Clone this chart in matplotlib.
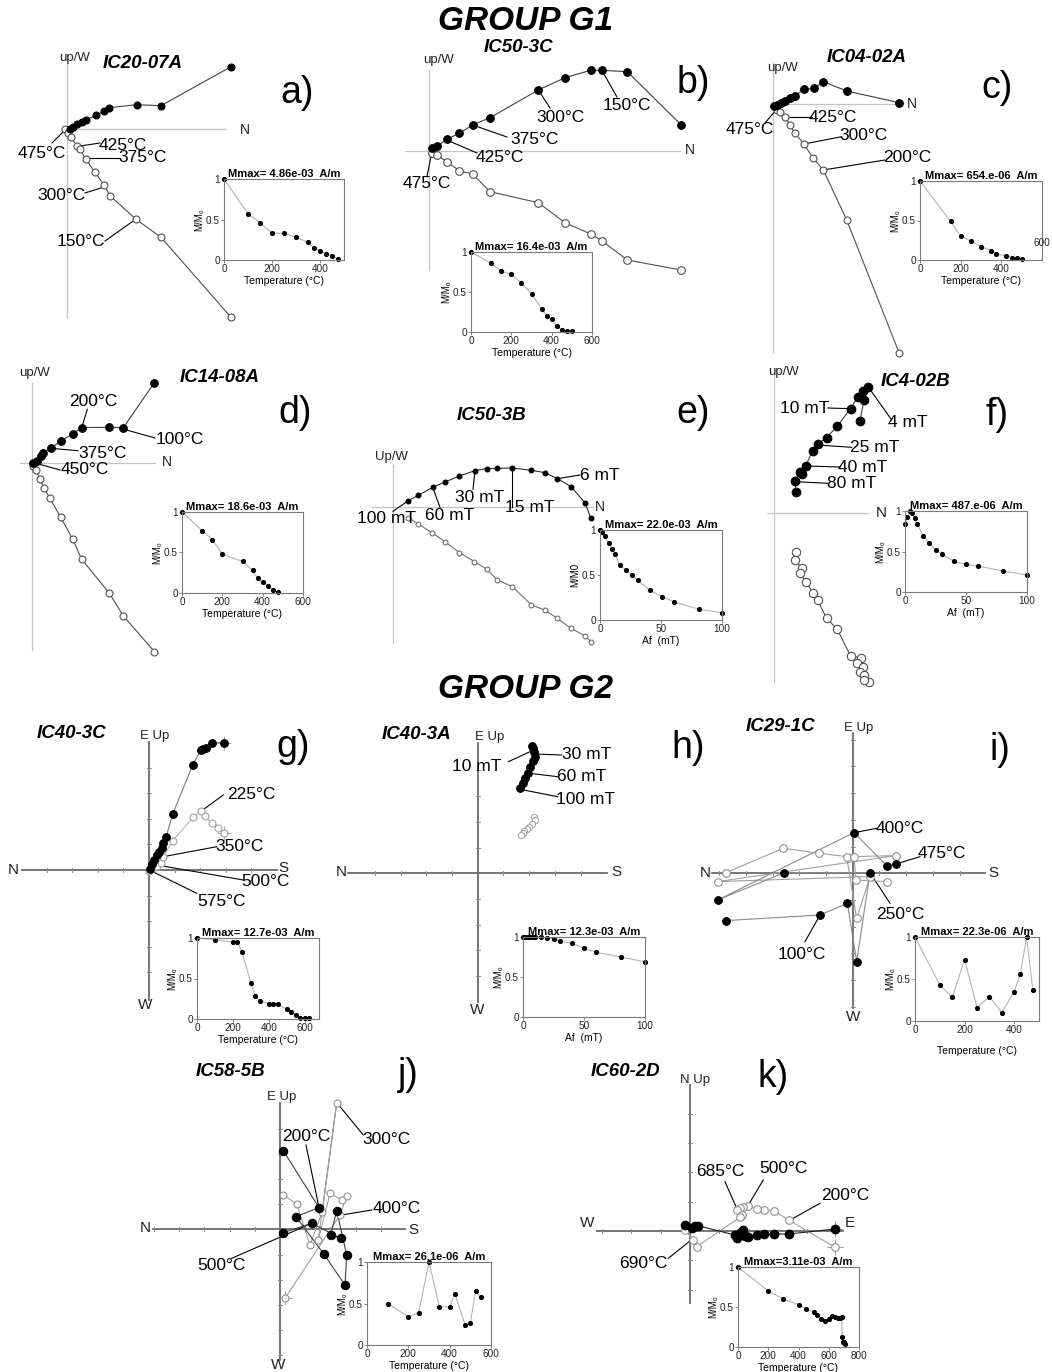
import matplotlib
matplotlib.use('Agg')
import matplotlib.pyplot as plt

plt.rcParams['font.family'] = ['Liberation Sans', 'DejaVu Sans']

W, H = 1052, 1372
fig = plt.figure(figsize=(W / 100, H / 100), dpi=100)
fig.patch.set_facecolor('white')

# ---------------- Zijderveld data (horizontal = filled, vertical = open) ----------------
A_H = [(3, 0), (6.3, 2.3), (10.3, 4.7), (14.7, 7), (19, 9), (28.7, 13.7), (37.3, 17.7), (42.3, 21.3),
       (69.7, 24.3), (94, 23.3), (164, 62.3)]
A_V = [(-2, 0), (1.3, -4.3), (3.7, -8.3), (10.3, -17), (13, -20.3), (19, -30.3), (28, -43.3), (37, -56),
       (43, -66.7), (69, -90.3), (94, -108.3), (164, -188.3)]
B_H = [(2.7, 2.7), (8.3, 5), (17.7, 11.7), (30.3, 17.7), (43.7, 26), (61, 33.3), (109.3, 61), (136, 73.3),
       (161.7, 80.7), (172.7, 80.7), (198.3, 79.3), (252, 26.3)]
B_V = [(2.7, -1.7), (8.3, -4), (17.7, -10.7), (30.3, -19.7), (43.7, -23), (61, -40.7), (109.3, -51.7),
       (136, -71.7), (161.7, -83), (172.7, -89.7), (198.3, -109), (252, -119)]
C_H = [(0.5, -1.5), (3.7, -1), (8, 1.3), (12, 3), (17, 5.7), (22, 8.3), (31, 14.7), (41, 15.7), (50.3, 22.3),
       (73.7, 13), (126.3, 1.3)]
C_V = [(3.7, -6), (7, -7.7), (12, -12.7), (17, -21), (22, -29.3), (31, -40), (39.7, -53.7), (50.3, -66),
       (73.7, -116), (126.3, -249.3)]
D_H = [(1.7, 0.7), (5, 2.7), (9, 7.3), (11.7, 10.7), (19, 15), (29, 22.3), (41, 29.3), (50, 35.7), (77.7, 36),
       (91.7, 35.7), (122.7, 80.7)]
D_V = [(1, -2.7), (4.3, -6.7), (8.3, -16), (12.3, -25), (18.3, -35), (29, -54), (41, -76), (50, -96),
       (77.7, -130), (91.7, -152.7), (122.7, -188.3)]
E_H = [(15.7, 6.7), (25.7, 12), (40, 20), (52.3, 25.3), (66.7, 31.3), (82.3, 36.7), (94, 38.7), (104.7, 39),
       (119.7, 39.3), (138.7, 37), (152, 34.7), (164.7, 28.7), (178.3, 20.7), (192.7, 4), (198, -11)]
E_V = [(15.7, -10.3), (25.7, -16.7), (39, -25.3), (52.3, -34.3), (66.7, -45.3), (81.7, -54.3), (94, -62),
       (104.7, -72.7), (119.7, -79.3), (138.7, -97.7), (152, -102.7), (164.7, -111), (178, -121),
       (192.7, -128.7), (198, -134.3)]
F_H = [(85.7, 92.7), (89.7, 113.3), (94, 126.7), (89, 122.7), (83.3, 116), (76.3, 104.7), (63, 87.3),
       (52.3, 75.7), (43.3, 69.3), (38.3, 62.7), (31.3, 47.3), (27.3, 39), (25.7, 41.7), (20.7, 32.7),
       (21.7, 21)]
F_V = [(21.7, -38.3), (20.7, -46.7), (27.3, -55), (25.7, -60), (31.3, -68.3), (39, -80), (43.3, -86.7),
       (52.3, -105), (63, -116), (76.3, -142.7), (86.3, -144.3), (83, -150), (89, -153.3), (85.7, -158.3),
       (89.7, -161.7), (95, -168.3), (89.7, -166.7)]
G_H = [(0.5, 1), (2.7, 6), (5, 10), (8.3, 15), (10.3, 18.3), (12.7, 21.7), (14.3, 26.7), (17, 32.7),
       (23.7, 56), (43.7, 105), (52, 120), (54.3, 120.7), (57, 121.7), (62.7, 127.3), (75, 127.3)]
G_V = [(0, -0.7), (4.3, 1.7), (8.3, 4), (11.7, 6.7), (14.3, 13.3), (23.7, 29.3), (44.3, 52.7), (51.7, 59.3),
       (56, 54), (62.7, 46.7), (69.3, 41.7), (75, 36.7)]
H_H = [(54, 127.3), (55.7, 125), (56.3, 121.7), (57.3, 116.7), (55, 112.3), (52.3, 106.7), (50.7, 100.7),
       (47.3, 95), (45, 90.7), (42.3, 85)]
H_V = [(56.3, 56), (57.3, 53.3), (54, 49.3), (51.7, 46.7), (49, 44), (46.7, 42.3), (45, 40.7), (43, 38.3)]
I_H = [(-126.7, -47.3), (-32.7, -41.7), (-5.3, -30), (4, -88.3), (17.3, 0.7), (-68.3, 0.7), (-135, -26.7),
       (1.3, 40.7), (34, 7.7), (43.3, 9.3)]
I_V = [(-126.7, 0.7), (-69.3, 25), (-33.3, 20), (-6, 16.7), (4, -45), (17.3, -3.3), (-135, -8.3),
       (43.3, 17.7), (1.3, 16.7), (3.3, -6.7), (34, -8.3)]
J_H = [(3.3, 78.7), (39, 21.7), (16, 12.7), (44, -25), (65, -55.7), (66.7, -25.7), (56.7, 18.7), (50.7, -5.7),
       (60.7, -9), (31.7, 6), (3.3, -3.3)]
J_V = [(3.3, 34.3), (16.7, 25.3), (30, -15.7), (42.3, 17.6), (56.7, 126.6), (38.3, -10.7), (50, 36),
       (61.7, 29.3), (66.7, 33.3), (60, 14.3), (5, -69)]
K_H = [(145, 2), (98.7, -3), (84, -3), (74, -3), (66.7, -4), (58.3, -5.7), (55, -5), (52.7, 1), (50, -2.3),
       (46.7, -7.3), (45, -4), (7.7, 5.3), (5, 5), (1.7, 2.7), (-5, 6)]
K_V = [(145, -16.3), (98.7, 11), (84, 20.3), (74, 21), (66.7, 22), (58.3, 25.3), (53.3, 24.3), (50, 22.7),
       (46.7, 21), (51.7, 16), (50, 13.7), (6.7, -15.7), (3.3, -9), (-5, 1)]

# ---------------- Demagnetisation curves (insets) ----------------
A_T = [0, 100, 150, 200, 250, 300, 350, 375, 400, 425, 450, 475]
A_M = [1, 0.57, 0.46, 0.33, 0.33, 0.28, 0.22, 0.15, 0.11, 0.08, 0.05, 0.01]
B_T = [0, 100, 150, 200, 250, 300, 350, 375, 400, 425, 450, 475, 500]
B_M = [1, 0.86, 0.76, 0.72, 0.61, 0.48, 0.29, 0.2, 0.16, 0.08, 0.03, 0.01, 0.01]
C_T = [0, 150, 200, 250, 300, 350, 375, 425, 450, 475, 500]
C_M = [1, 0.49, 0.3, 0.24, 0.17, 0.12, 0.08, 0.05, 0.03, 0.02, 0.01]
D_T = [0, 100, 150, 200, 300, 350, 375, 400, 425, 450, 475]
D_M = [1, 0.77, 0.66, 0.48, 0.39, 0.28, 0.18, 0.13, 0.09, 0.04, 0.01]
E_AF = [0, 1.5, 4, 7, 10, 12.5, 16, 21, 26, 31, 41, 51, 61, 81, 100]
E_M = [1, 0.98, 0.93, 0.85, 0.79, 0.73, 0.61, 0.56, 0.5, 0.44, 0.33, 0.26, 0.2, 0.12, 0.08]
F_AF = [0, 2, 4, 6, 8, 10, 15, 20, 25, 30, 40, 50, 60, 80, 100]
F_M = [0.84, 0.92, 1.0, 0.97, 0.91, 0.84, 0.69, 0.6, 0.52, 0.47, 0.38, 0.34, 0.32, 0.26, 0.21]
G_T = [0, 100, 200, 225, 250, 300, 325, 350, 400, 425, 450, 500, 525, 550, 575, 600, 625]
G_M = [1, 0.98, 0.95, 0.95, 0.83, 0.45, 0.28, 0.22, 0.19, 0.18, 0.18, 0.12, 0.09, 0.05, 0.01, 0.01, 0.01]
H_AF = [0, 2, 4, 6, 8, 10, 15, 20, 25, 30, 40, 50, 60, 80, 100]
H_M = [1, 1, 1, 1, 1, 1, 1, 0.99, 0.98, 0.95, 0.92, 0.86, 0.81, 0.75, 0.69]
I_T = [0, 100, 150, 200, 250, 300, 350, 400, 425, 450, 475]
I_M = [1, 0.43, 0.28, 0.73, 0.16, 0.29, 0.10, 0.35, 0.56, 1.0, 0.37]
J_T = [100, 200, 250, 300, 350, 400, 425, 475, 500, 525, 550]
J_M = [0.5, 0.34, 0.39, 1.0, 0.46, 0.46, 0.62, 0.24, 0.26, 0.65, 0.58]
K_T = [0, 200, 300, 400, 450, 500, 525, 550, 575, 600, 620, 640, 660, 675, 685, 690, 695, 700, 710]
K_M = [1, 0.7, 0.6, 0.53, 0.48, 0.44, 0.4, 0.35, 0.33, 0.35, 0.39, 0.37, 0.36, 0.36, 0.38, 0.12, 0.06,
       0.06, 0.04]

MMAX = ['Mmax= 4.86e-03  A/m', 'Mmax= 16.4e-03  A/m', 'Mmax= 654.e-06  A/m', 'Mmax= 18.6e-03  A/m',
        'Mmax= 22.0e-03  A/m', 'Mmax= 487.e-06  A/m', 'Mmax= 12.7e-03  A/m', 'Mmax= 12.3e-03  A/m',
        'Mmax= 22.3e-06  A/m', 'Mmax= 26.1e-06  A/m', 'Mmax=3.11e-03  A/m']

# ---------------- step labels: (text, text x, text y, point x, point y, leader x, leader y) ----------------
A_LAB = [('475°C', -25, -24, -2, -1, -15, -14), ('425°C', 56, -16, 13, -17, 33, -14),
         ('375°C', 76, -29, 19, -29, 53, -29), ('300°C', -6, -66, 37, -58, 18, -64),
         ('150°C', 14, -112, 69, -90, 38, -112)]
B_LAB = [('475°C', -2, -33, 3, -1, -2, -25), ('425°C', 71, -6, 17.7, 11, 48, -2),
         ('375°C', 106, 11, 43.7, 26, 78, 14), ('300°C', 131, 34, 109.3, 61, 121, 43),
         ('150°C', 198, 46, 172.7, 81, 188, 54)]
C_LAB = [('475°C', -23, -26, 3.7, -5.3, -8, -19), ('425°C', 60, -13, 12, -12.7, 38.7, -12.7),
         ('300°C', 90, -32, 31, -40, 68.7, -32.7), ('200°C', 134, -54, 50.3, -66, 112, -56)]
D_LAB = [('200°C', 61.3, 62.3, 50, 35.6, 55.6, 54), ('100°C', 148.3, 23.3, 91.3, 34.3, 123.3, 25.3),
         ('375°C', 71.3, 10.3, 19, 15, 46.3, 12.6), ('450°C', 53.3, -6.7, 3.3, 0.3, 28.3, -6.7)]
E_LAB = [('100 mT', -6, -11, 15.6, 6.6, 0.3, -4), ('60 mT', 57.3, -7.7, 40, 20, 47.3, 0),
         ('30 mT', 87.3, 10.3, 82.3, 36.6, 80.3, 18), ('15 mT', 137.3, 0.3, 119.6, 39.3, 119.6, 0.3),
         ('6 mT', 207.3, 32.3, 164.6, 28.6, 187.3, 32.3)]
F_LAB = [('10 mT', 30.7, 105, 76.4, 104.6, 53.7, 105.3), ('4 mT', 133.7, 90.6, 94.7, 125.3, 117.4, 93.3),
         ('25 mT', 100.7, 66.3, 43.4, 68.3, 77.4, 66), ('40 mT', 88.7, 45.3, 31.4, 47.3, 65.7, 46.3),
         ('80 mT', 77.4, 29.3, 20.7, 31.6, 54, 30)]
G_LAB = [('225°C', 102.7, 75, 52.7, 59.3, 74.3, 75), ('350°C', 91, 23.3, 14.3, 13.3, 67.7, 23.3),
         ('500°C', 116, -11.7, 7.7, 5, 94.3, -10), ('575°C', 72.7, -31.7, 1.7, -0.7, 47.7, -23.3)]
H_LAB = [('10 mT', -1, 106.6, 52.3, 121.6, 30.6, 111.6), ('30 mT', 109, 118.3, 56.3, 119.3, 84, 118.3),
         ('60 mT', 104, 96.6, 51.6, 100, 80, 96.6), ('100 mT', 107.3, 74, 42.3, 84, 80, 76.6)]
I_LAB = [('400°C', 47.3, 45, 1.3, 40.6, 24, 45), ('475°C', 89, 20, 43.3, 9.3, 67.3, 16.6),
         ('250°C', 47.3, -41.7, 17.3, 0.6, 37.3, -30), ('100°C', -51, -81.7, -32.7, -41.7, -47.7, -68.4)]
J_LAB = [('200°C', 26.7, 92.6, 39, 21.6, 26, 84.3), ('300°C', 106.7, 89.3, 57.3, 126, 83.3, 94.3),
         ('400°C', 116.7, 21, 61.7, 14.3, 91.7, 19.3), ('500°C', -58.3, -35.7, 31.7, 6, -48.3, -29)]
K_LAB = [('685°C', 30, 59.3, 46.7, 22.7, 35, 49.3), ('500°C', 93.3, 62.7, 58.3, 26, 73.3, 51),
         ('200°C', 155, 35, 103.3, 12.7, 130, 27.7), ('690°C', -46.7, -33, 3.3, -7.3, -21.7, -27.3)]


# ---------------- helpers ----------------
def panel(box, origin):
    x0, y0, x1, y1 = box
    ox, oy = origin
    ax = fig.add_axes([x0 / W, 1 - y1 / H, (x1 - x0) / W, (y1 - y0) / H])
    ax.set_xlim(x0 - ox, x1 - ox)
    ax.set_ylim(oy - y1, oy - y0)
    ax.axis('off')
    return ax


def g1_axes(ax, hx, vy):
    ax.plot(hx, [0, 0], color='#c4c4c4', lw=0.9, zorder=0, clip_on=False)
    ax.plot([0, 0], vy, color='#c4c4c4', lw=0.9, zorder=0, clip_on=False)


def g2_axes(ax, hx, vy, step):
    ax.plot(hx, [0, 0], color='#6a6a6a', lw=1.3, zorder=0, clip_on=False)
    ax.plot([0, 0], vy, color='#6a6a6a', lw=1.3, zorder=0, clip_on=False)
    k = 1
    while k * step < max(-hx[0], hx[1], -vy[0], vy[1]) - 4:
        for s in (-1, 1):
            t = s * k * step
            if hx[0] < t < hx[1]:
                ax.plot([t, t], [-2, 2], color='#8a8a8a', lw=0.7, zorder=0, clip_on=False)
            if vy[0] < t < vy[1]:
                ax.plot([-2, 2], [t, t], color='#8a8a8a', lw=0.7, zorder=0, clip_on=False)
        k += 1


def series(ax, pts, filled, ms, lc, ec='black', lw=0.8):
    xs = [p[0] for p in pts]
    ys = [p[1] for p in pts]
    ax.plot(xs, ys, '-', color=lc, lw=lw, zorder=2, clip_on=False)
    ax.plot(xs, ys, 'o', ms=ms, mfc='black' if filled else 'white', mec=ec, mew=0.8, zorder=3,
            clip_on=False)


def labels(ax, labs, fs=12.5):
    for t, tx, ty, px, py, lx, ly in labs:
        ax.plot([px, lx], [py, ly], color='black', lw=0.8, zorder=1, clip_on=False)
        ax.text(tx, ty, t, ha='center', va='center', fontsize=fs, zorder=4)


def title(ax, name, letter, tpos, lpos):
    ax.text(tpos[0], tpos[1], name, ha='center', va='center', fontsize=13.5, weight='bold', style='italic')
    ax.text(lpos[0], lpos[1], letter, ha='center', va='center', fontsize=27)


def txt(ax, x, y, s, fs=10):
    ax.text(x, y, s, ha='center', va='center', fontsize=fs, color='#222')


def inset(box, xs, ys, xlim, xticks, mmax, ylab, xlab, xlabpad=1):
    x0, y0, x1, y1 = box
    ax = fig.add_axes([x0 / W, 1 - y1 / H, (x1 - x0) / W, (y1 - y0) / H])
    ax.plot(xs, ys, '-', color='#b4b4b4', lw=0.8, zorder=1, clip_on=False)
    ax.plot(xs, ys, 'o', color='black', ms=2.7, zorder=2, clip_on=False)
    ax.set_xlim(*xlim)
    ax.set_ylim(0, 1)
    ax.set_xticks(xticks)
    ax.set_xticklabels([str(v) for v in xticks])
    ax.set_yticks([0, 0.5, 1])
    ax.set_yticklabels(['0', '0.5', '1'])
    ax.tick_params(labelsize=7.2, length=2, width=0.5, pad=1, colors='#555', labelcolor='#222')
    for s in ax.spines.values():
        s.set_color('#7a7a7a')
        s.set_linewidth(0.8)
    ax.set_title(mmax, fontsize=8, weight='bold', pad=1.5)
    ax.set_ylabel(ylab, fontsize=7, labelpad=1)
    ax.set_xlabel(xlab, fontsize=7.5, labelpad=xlabpad)
    return ax


# ---------------- headers ----------------
fig.text(526 / W, 1 - 21 / H, 'GROUP G1', ha='center', va='center', fontsize=24, weight='bold',
         style='italic')
fig.text(526 / W, 1 - 689 / H, 'GROUP G2', ha='center', va='center', fontsize=24, weight='bold',
         style='italic')

TEMP = 'Temperature (°C)'
AF = 'Af  (mT)'
MM0 = 'M/M₀'

# ---------------- panel a ----------------
ax = panel((0, 35, 350, 330), (67, 129))
g1_axes(ax, [-2, 158], [-188, 66])
series(ax, A_V, False, 5, '#505050', '#505050')
series(ax, A_H, True, 5, '#404040')
labels(ax, A_LAB)
txt(ax, 178, -1, 'N')
txt(ax, 8, 71, 'up/W', 9.5)
title(ax, 'IC20-07A', 'a)', (76, 66), (230, 36))

# ---------------- panel b ----------------
ax = panel((350, 35, 720, 340), (429, 151))
g1_axes(ax, [-24, 251], [-119, 81])
series(ax, B_V, False, 5.5, '#505050', '#505050')
series(ax, B_H, True, 5.5, '#404040')
labels(ax, B_LAB)
txt(ax, 261, 1, 'N')
txt(ax, 9, 91, 'up/W', 9.5)
title(ax, 'IC50-3C', 'b)', (89, 104), (264, 68))

# ---------------- panel c ----------------
ax = panel((720, 35, 1052, 360), (773, 104))
g1_axes(ax, [0, 127], [-248, 41])
series(ax, C_V, False, 5, '#505050', '#505050')
series(ax, C_H, True, 5.5, '#404040')
labels(ax, C_LAB)
txt(ax, 139, 0, 'N')
txt(ax, 10, 36, 'up/W', 9.5)
title(ax, 'IC04-02A', 'c)', (94, 47), (224, 16))

# ---------------- panel d ----------------
ax = panel((0, 360, 340, 660), (31.7, 463.3))
g1_axes(ax, [-11.7, 123.3], [-186.7, 80.3])
series(ax, D_V, False, 5, '#505050', '#505050')
series(ax, D_H, True, 5.5, '#404040')
labels(ax, D_LAB)
txt(ax, 135.3, 1.3, 'N')
txt(ax, 3.3, 90.3, 'up/W', 9.5)
title(ax, 'IC14-08A', 'd)', (188.3, 86.3), (263.3, 50.3))

# ---------------- panel e ----------------
ax = panel((340, 395, 720, 660), (392.7, 507.3))
g1_axes(ax, [-21, 200.3], [-135.7, 42.3])
series(ax, E_V, False, 3.5, '#707070', '#707070')
series(ax, E_H, True, 3.5, '#303030')
labels(ax, E_LAB)
txt(ax, 207.3, 0.3, 'N')
txt(ax, -1, 50.6, 'Up/W', 9.5)
title(ax, 'IC50-3B', 'e)', (99, 92.3), (300.3, 94.3))

# ---------------- panel f ----------------
ax = panel((720, 365, 1052, 690), (774.3, 513.3))
g1_axes(ax, [-7.6, 93.7], [-168.4, 138.3])
series(ax, F_V, False, 6, '#505050', '#505050')
series(ax, F_H, True, 6.2, '#404040')
labels(ax, F_LAB)
txt(ax, 107.4, 0.3, 'N', 11)
txt(ax, 9, 141, 'up/W', 9.5)
title(ax, 'IC4-02B', 'f)', (140.7, 131.6), (222.4, 98.3))

# ---------------- panel g ----------------
ax = panel((0, 715, 340, 1045), (149, 870))
g2_axes(ax, [-127.3, 127.7], [-130, 128.3], 25.6)
ax.plot([75], [36.7], '+', ms=10, color='#aaaaaa', mew=0.7, zorder=1)
ax.plot([75], [127.3], '+', ms=10, color='#aaaaaa', mew=0.7, zorder=1)
series(ax, G_V, False, 5, '#b0b0b0', '#a0a0a0')
series(ax, G_H, True, 5.5, '#7a7a7a')
labels(ax, G_LAB)
txt(ax, -135.7, 0, 'N', 11)
txt(ax, 134, 2, 'S', 11)
txt(ax, 6, 134, 'E Up', 9.5)
txt(ax, -4, -135, 'W', 11)
title(ax, 'IC40-3C', 'g)', (-77.3, 136.7), (144, 123.3))

# ---------------- panel h ----------------
ax = panel((330, 715, 690, 1045), (477.7, 873.3))
g2_axes(ax, [-129.4, 129], [-128.4, 130], 25.7)
series(ax, H_V, False, 4.5, '#b8b8b8', '#a8a8a8')
series(ax, H_H, True, 5.5, '#303030')
labels(ax, H_LAB)
txt(ax, -136, 1.6, 'N', 11)
txt(ax, 139, 1.6, 'S', 11)
txt(ax, 12.3, 136.6, 'E Up', 9.5)
txt(ax, -1, -136.7, 'W', 11)
title(ax, 'IC40-3A', 'h)', (-61, 138.3), (210.3, 125.3))

# ---------------- panel i ----------------
ax = panel((680, 715, 1052, 1045), (852.7, 873.3))
g2_axes(ax, [-141, 132.3], [-135, 140], 26.7)
series(ax, I_V, False, 5.5, '#a0a0a0', '#909090')
series(ax, I_H, True, 5.5, '#8a8a8a')
labels(ax, I_LAB)
txt(ax, -147, 0, 'N', 11)
txt(ax, 140.6, 0, 'S', 11)
txt(ax, 5.6, 145, 'E Up', 9.5)
txt(ax, 0, -143.4, 'W', 11)
title(ax, 'IC29-1C', 'i)', (-72.7, 146.6), (147.3, 123.3))

# ---------------- panel j ----------------
ax = panel((100, 1060, 500, 1372), (280, 1229.3))
g2_axes(ax, [-126.7, 125], [-130.7, 126], 25.2)
ax.plot([5], [-69], '+', ms=10, color='#aaaaaa', mew=0.7, zorder=1)
series(ax, J_V, False, 5, '#a0a0a0', '#909090')
series(ax, J_H, True, 6, '#404040')
labels(ax, J_LAB)
txt(ax, -135, 1, 'N', 11)
txt(ax, 133.3, -0.7, 'S', 11)
txt(ax, 1.7, 132, 'E Up', 9.5)
txt(ax, -1.7, -135.7, 'W', 11)
title(ax, 'IC58-5B', 'j)', (-50, 157.6), (128.3, 154.3))

# ---------------- panel k ----------------
ax = panel((560, 1060, 1052, 1372), (690, 1231))
g2_axes(ax, [-93.3, 153.3], [-72.3, 146], 29.3)
ax.plot([145], [-16.3], '+', ms=11, color='#999999', mew=0.7, zorder=1)
ax.plot([145], [2], '+', ms=11, color='#999999', mew=0.7, zorder=1)
series(ax, K_V, False, 5.5, '#a0a0a0', '#909090')
series(ax, K_H, True, 6.2, '#202020')
labels(ax, K_LAB)
txt(ax, -103.3, 7.7, 'W', 11)
txt(ax, 160, 8.3, 'E', 11)
txt(ax, 5, 151, 'N Up', 9.5)
title(ax, 'IC60-2D', 'k)', (-65, 159.3), (83.3, 154.3))

# ---------------- insets ----------------
inset((224, 179, 344, 260), A_T, A_M, (0, 500), [0, 200, 400], MMAX[0], MM0, TEMP)
inset((471, 252, 592, 332), B_T, B_M, (0, 600), [0, 200, 400, 600], MMAX[1], MM0, TEMP)
axc = inset((920, 181, 1042, 260), C_T, C_M, (0, 600), [0, 200, 400], MMAX[2], MM0, TEMP)
axc.text(1.0, 0.22, '600', transform=axc.transAxes, ha='center', va='center', fontsize=7.2, color='#222')
inset((182, 512, 303, 593), D_T, D_M, (0, 600), [0, 200, 400, 600], MMAX[3], MM0, TEMP)
inset((600, 530, 722, 620), E_AF, E_M, (0, 100), [0, 50, 100], MMAX[4], 'M/M0', AF)
inset((905, 511, 1027, 592), F_AF, F_M, (0, 100), [0, 50, 100], MMAX[5], MM0, AF)
inset((197, 938, 319, 1019), G_T, G_M, (0, 680), [0, 200, 400, 600], MMAX[6], MM0, TEMP)
inset((523, 937, 645, 1017), H_AF, H_M, (0, 100), [0, 50, 100], MMAX[7], MM0, AF)
inset((915, 937, 1039, 1021), I_T, I_M, (0, 500), [0, 200, 400], MMAX[8], MM0, TEMP, xlabpad=8)
inset((367, 1262, 491, 1345), J_T, J_M, (0, 600), [0, 200, 400, 600], MMAX[9], MM0, TEMP)
inset((738, 1267, 859, 1347), K_T, K_M, (0, 800), [0, 200, 400, 600, 800], MMAX[10], MM0, TEMP)

fig.savefig('out.png', dpi=100, facecolor='white')
